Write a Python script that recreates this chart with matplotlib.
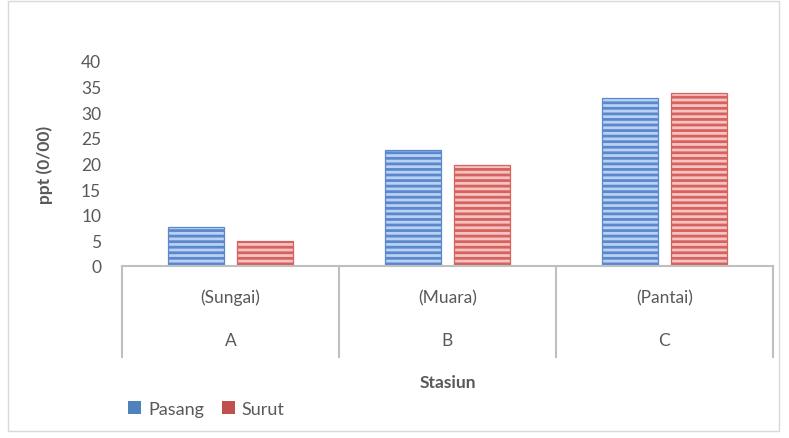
import matplotlib
matplotlib.use("Agg")
import matplotlib.pyplot as plt
import matplotlib.transforms as mtransforms
from matplotlib.patches import Patch, Rectangle
from matplotlib.lines import Line2D
import numpy as np

categories = ["A", "B", "C"]
locations = ["(Sungai)", "(Muara)", "(Pantai)"]
pasang = [7.7, 22.6, 32.7]
surut = [4.8, 19.8, 33.8]
yticks = [0, 5, 10, 15, 20, 25, 30, 35, 40]

plt.rcParams['font.family'] = ['Lato', 'DejaVu Sans']
plt.rcParams['hatch.linewidth'] = 2.0
txt = '#595959'
W, H = 789, 439
fig = plt.figure(figsize=(W/100, H/100), dpi=100)
fig.patches.append(Rectangle((8/W, 1 - 432/H), 771/W, 430/H, transform=fig.transFigure,
                             fill=False, edgecolor='#d9d9d9', linewidth=1))

ax = fig.add_axes([122/W, 1 - 267/H, (773-122)/W, (267-62)/H])
x = np.arange(len(categories))
bw = 0.26
off = 0.158
ax.bar(x - off, pasang, bw, facecolor='#b9d1f2', edgecolor='#5b88cc', hatch='---', linewidth=0.9)
ax.bar(x + off, surut, bw, facecolor='#f7c3c1', edgecolor='#d4625e', hatch='---', linewidth=0.9)
ax.set_xlim(-0.5, 2.5)
ax.set_ylim(0, 40)
ax.set_yticks(yticks)
ax.set_yticklabels([str(v) for v in yticks], fontsize=12.5, color=txt)
ax.tick_params(axis='y', length=0, pad=15)
ax.set_xticks([])
for s in ['top', 'right', 'left']:
    ax.spines[s].set_visible(False)
ax.spines['bottom'].set_color('#bfbfbf')
ax.spines['bottom'].set_linewidth(1.5)
ax.set_ylabel("ppt (0/00)", fontsize=12.5, fontweight='bold', color=txt, labelpad=20)

tr = mtransforms.blended_transform_factory(ax.transData, fig.transFigure)
for b in [-0.5, 0.5, 1.5, 2.5]:
    fig.lines.append(Line2D([b, b], [1 - 267/H, 1 - 358/H], transform=tr, color='#bfbfbf', linewidth=1.5))
for i in range(len(categories)):
    fig.text(x[i], 1 - 298/H, locations[i], transform=tr, ha='center', va='center', fontsize=12.5, color=txt)
    fig.text(x[i], 1 - 341/H, categories[i], transform=tr, ha='center', va='center', fontsize=12.5, color=txt)
fig.text(1, 1 - 383/H, "Stasiun", transform=tr, ha='center', va='center', fontsize=12.5, fontweight='bold', color=txt)

handles = [Patch(facecolor='#4f81bd', edgecolor='none'), Patch(facecolor='#c0504d', edgecolor='none')]
fig.legend(handles, ["Pasang", "Surut"], loc='center left', bbox_to_anchor=(112/W, 1 - 410/H), ncol=2,
           frameon=False, fontsize=13, labelcolor=txt, handlelength=0.7, handleheight=0.7,
           handletextpad=0.4, columnspacing=1.0)

fig.savefig("out.png", dpi=100)
